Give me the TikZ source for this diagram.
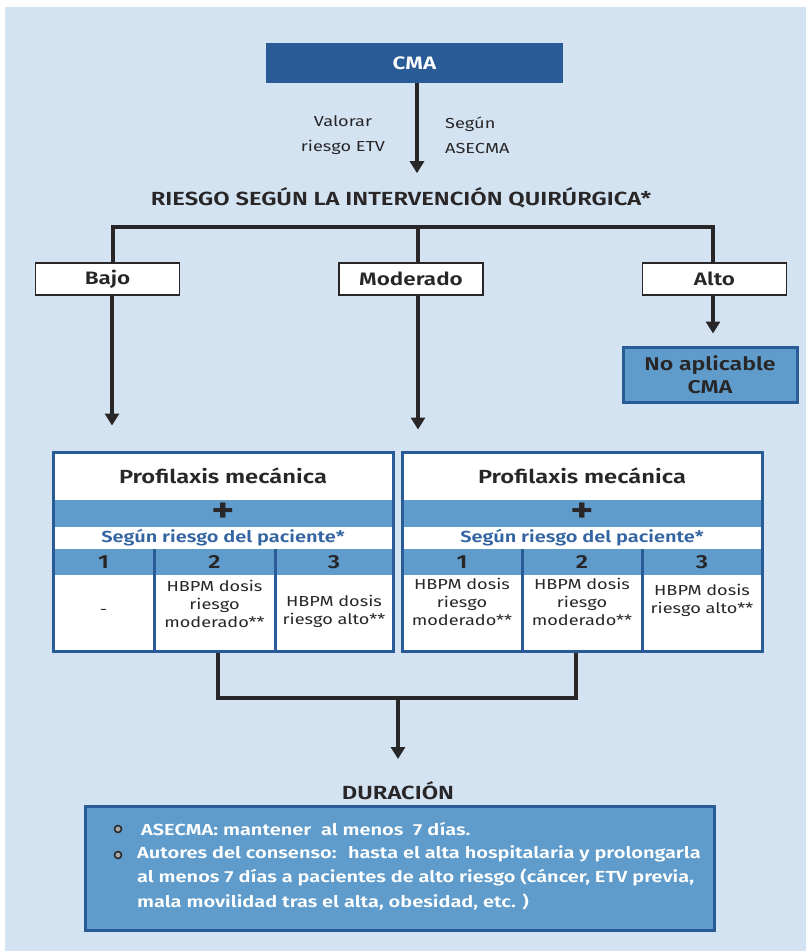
\documentclass[tikz,border=0pt]{standalone}
\usepackage{fontspec}
\setmainfont[FakeStretch=1.25,BoldFont={Fira Sans SemiBold}]{Fira Sans}
\usepackage{tikz}
\usetikzlibrary{arrows.meta,positioning,calc}
\usepackage{xcolor}
\definecolor{bgblue}{RGB}{212,227,242}
\definecolor{darkblue}{RGB}{41,92,150}
\definecolor{midblue}{RGB}{95,156,203}
\definecolor{txtblue}{RGB}{52,101,163}
\definecolor{inkgray}{RGB}{40,38,39}
\newcommand{\fsz}[2]{\fontsize{#1pt}{#2pt}\selectfont}

\begin{document}
\begin{tikzpicture}[x=1pt,y=-1pt,
    line/.style={draw=inkgray,line width=3.2pt},
    arr/.style={line,-{Triangle[width=14pt,length=12pt]}},
    riskbox/.style={draw=inkgray,line width=1.8pt,fill=white,minimum width=144pt,
      minimum height=32pt,inner sep=0pt,text=inkgray,font=\fsz{18}{20}\bfseries},
    head/.style={inner sep=0pt,text=inkgray,font=\fsz{19}{22}\bfseries},
    cell/.style={inner sep=0pt,text=inkgray,align=center,font=\fsz{14.5}{18}},
    num/.style={inner sep=0pt,text=inkgray,font=\fsz{19}{20}\bfseries},
    frame/.style={draw=darkblue,line width=3pt,inner sep=0pt},
    bullet/.style={circle,draw=inkgray,fill=gray!70,line width=1.5pt,minimum size=7pt,inner sep=0pt},
    durtext/.style={inner sep=0pt,text=white,align=left,font=\fsz{16}{24.5}\bfseries}]

    % Background
    \useasboundingbox (0,0) rectangle (806,951);
    \fill[bgblue] (5,7) rectangle (806,951);

    % CMA
    \node[fill=darkblue,minimum width=297pt,minimum height=40pt,inner sep=0pt,
      text=white,font=\fsz{18}{20}\bfseries] (cma) at (414.5,63) {CMA};
    \node[cell,font=\fsz{14.5}{25}] (valorar) at (343,135.5) {Valorar\\riesgo ETV};
    \node[cell,font=\fsz{14.5}{25},align=left,anchor=west] (asecma) at (445,135.5) {Según\\ASECMA};
    \coordinate (riesgoin) at ($(cma.south)+(2.5,90)$);
    \draw[arr] ($(cma.south)+(2.5,0)$) -- (riesgoin);
    \node[head,font=\fsz{19}{20}\bfseries] (riesgo) at (401,198)
      {RIESGO SEGÚN LA INTERVENCIÓN QUIRÚRGICA*};

    % Risk levels
    \node[riskbox] (bajo) at (107.5,279) {Bajo};
    \node[riskbox] (moderado) at (411,279) {Moderado};
    \node[riskbox] (alto) at (714.5,279) {Alto};
    \coordinate (fork) at (418,227);
    \draw[line] ([xshift=5.5pt]bajo.north) |- (fork) -| ([xshift=-1.5pt]alto.north);
    \draw[line] (fork) -- ([xshift=7pt]moderado.north);

    \node[draw=darkblue,line width=3pt,fill=midblue,minimum width=174pt,minimum height=55pt,
      inner sep=0pt,align=center,text=inkgray,font=\fsz{18.5}{23}\bfseries] (noapl) at (710,374.5)
      {No aplicable\\CMA};
    \draw[arr,shorten >=12pt] ([xshift=-1.5pt]alto.south) -- ([xshift=-1.5pt]alto.south |- noapl.north);

    % Prophylaxis boxes
    \foreach \nm/\xa/\xb/\ca/\cb in {L/53/393/154/275,R/402/762/522/642} {
      \pgfmathsetmacro\xm{(\xa+\xb)/2}
      \pgfmathsetmacro\ma{(\xa+\ca)/2}
      \pgfmathsetmacro\mb{(\ca+\cb)/2}
      \pgfmathsetmacro\mc{(\cb+\xb)/2}
      \fill[white] (\xa,452) rectangle (\xb,651);
      \fill[midblue] (\xa,500) rectangle (\xb,527);
      \fill[midblue] (\xa,549) rectangle (\xb,575);
      \draw[darkblue,line width=3pt] (\ca,549) -- (\ca,651) (\cb,549) -- (\cb,651);
      \node[head] (title\nm) at (\xm,476) {Profilaxis mecánica};
      \node[num,font=\fsz{36}{36}\bfseries] (plus\nm) at (\xm,513) {+};
      \node[head,text=txtblue,font=\fsz{16}{20}\bfseries] (segun\nm) at (\xm,538)
        {Según riesgo del paciente*};
      \node[num] (one\nm) at (\ma,562) {1};
      \node[num] (two\nm) at (\mb,562) {2};
      \node[num] (three\nm) at (\mc,562) {3};
      \node[frame,minimum width={(\xb-\xa)*1pt},minimum height=199pt] (box\nm)
        at (\xm,551.5) {};
    }

    \node[cell] (dashL) at (103.5,612) {-};
    \node[cell] (modL) at (214.5,604) {HBPM dosis\\riesgo\\moderado**};
    \node[cell] (altL) at (334,611) {HBPM dosis\\riesgo alto**};
    \node[cell] (mod1R) at (462,602) {HBPM dosis\\riesgo\\moderado**};
    \node[cell] (mod2R) at (582,602) {HBPM dosis\\riesgo\\moderado**};
    \node[cell] (altR) at (702,600) {HBPM dosis\\riesgo alto**};

    \draw[arr,shorten >=25pt] ([xshift=4.5pt]bajo.south) -- ([xshift=4.5pt]bajo.south |- boxL.north);
    \draw[arr,shorten >=21pt] ([xshift=7pt]moderado.south) -- ([xshift=7pt]moderado.south |- boxR.north);

    % Duration
    \coordinate (merge) at (398,698);
    \coordinate (durin) at (398,759);
    \draw[line] ([xshift=-5pt]boxL.south) |- (merge) -| ([xshift=-6pt]boxR.south);
    \draw[arr] (merge) -- (durin);
    \node[head,font=\fsz{19}{20}\bfseries] (durlbl) at (398,791) {DURACIÓN};

    \node[draw=darkblue,line width=3pt,fill=midblue,minimum width=629pt,minimum height=124pt,
      inner sep=0pt] (durbox) at (399.5,868) {};
    \node[bullet] (bul1) at (118,829) {};
    \node[bullet] (bul2) at (118,855) {};
    \node[durtext,anchor=west] (item1) at (141,829) {ASECMA: mantener \ al menos \ 7 días.};
    \node[durtext,anchor=north west] (item2) at (137,845)
      {Autores del consenso: \ hasta el alta hospitalaria y prolongarla\\
       al menos 7 días a pacientes de alto riesgo (cáncer, ETV previa,\\
       mala movilidad tras el alta, obesidad, etc. )};
\end{tikzpicture}
\end{document}
